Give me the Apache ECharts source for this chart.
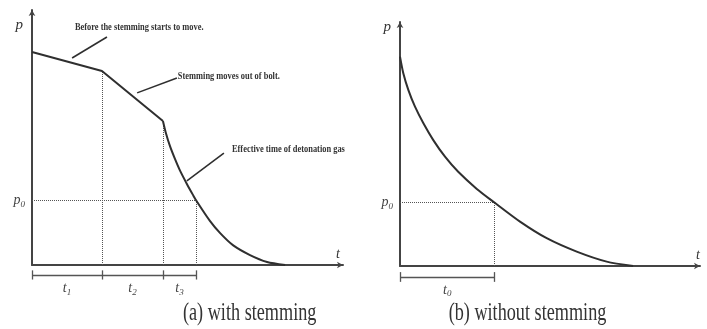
<!DOCTYPE html>
<html>
<head>
<meta charset="utf-8">
<script src="https://cdn.jsdelivr.net/npm/echarts@6/dist/echarts.min.js"></script>
<style>
  html, body { margin: 0; padding: 0; background: #fff; }
  #chart { width: 707px; height: 329px; }
</style>
</head>
<body>
<div id="chart"></div>
<script>
// ---- data (relative units: t and p both on a 0-100 scale per panel) ----

// (a) with stemming: slow drop before the stemming moves, faster drop while it moves out
const stemmedPlateau = [[0, 83.5], [22.5, 76.1], [42.1, 56.5]];
// then the detonation gas pressure decays freely
const stemmedDecay = [[42.1, 56.5], [43.0, 52.0], [44.4, 46.5], [46.0, 41.5], [47.6, 37.0],
                      [49.8, 31.8], [51.8, 27.4], [52.8, 25.3], [57.2, 17.3], [60.5, 12.5],
                      [64.6, 7.8], [70.1, 3.9], [75.6, 1.2], [81.4, 0]];
// phase boundaries t1, t1+t2, t1+t2+t3
const stemmedPhaseEnds = [22.5, 42.1, 52.8];
const stemmedPhaseNames = ['1', '2', '3'];
const stemmedP0 = 25.3;

// (b) without stemming
const openDecay = [[0, 85.8], [1.1, 79.0], [2.8, 72.1], [5.0, 65.3], [7.8, 58.5], [11.1, 51.6],
                   [15.0, 44.8], [19.4, 38.6], [25.6, 31.6], [31.5, 26.0], [40.0, 18.2],
                   [48.9, 11.4], [58.9, 5.9], [68.9, 1.8], [77.7, 0]];
const openPhaseEnds = [31.5];
const openPhaseNames = ['0'];
const openP0 = 26.0;

// callouts on panel (a): text anchor, leader start (on curve), leader end
const noteTexts = ['Before the stemming starts to move.', 'Stemming moves out of bolt.', 'Effective time of detonation gas'];
const noteAnchors = [[13.8, 93.3], [46.9, 74.1], [64.3, 45.5]];
const noteLeaders = [[[12.9, 81.2], [24.1, 89.4]], [[33.8, 67.5], [46.6, 73.3]], [[49.8, 33.0], [61.7, 43.9]]];

const captions = ['(a) with stemming', '(b) without stemming'];
const axisNames = { p: 'p', t: 't' };

// ---- styling ----
const INK = '#2f2f2f';
const AXIS = '#444';
const GUIDE = '#555';
const SERIF = '"Liberation Serif", "Times New Roman", serif';

const chart = echarts.init(document.getElementById('chart'));

// curve value at a given t (the phase ends are exact curve points)
function curveAt(points, t) {
  const hit = points.find(p => Math.abs(p[0] - t) < 1e-9);
  return hit ? hit[1] : 0;
}

function guideLines(points, ends, p0) {
  const segs = ends.map(t => ({ coords: [[t, 0], [t, curveAt(points, t)]] }));
  segs.push({ coords: [[0, p0], [ends[ends.length - 1], p0]] });
  return segs;
}

function bracketLines(ends, y, half) {
  const stops = [0].concat(ends);
  const segs = [{ coords: [[0, y], [stops[stops.length - 1], y]] }];
  stops.forEach(t => segs.push({ coords: [[t, y - half], [t, y + half]] }));
  return segs;
}

function xAxisOf(gridIndex, gap) {
  return {
    type: 'value', gridIndex, min: 0, max: 100,
    axisLine: { lineStyle: { color: AXIS, width: 2 }, symbol: ['none', 'arrow'], symbolSize: [5, 6] },
    axisTick: { show: false }, axisLabel: { show: false }, splitLine: { show: false },
    name: axisNames.t, nameLocation: 'end', nameGap: gap,
    nameTextStyle: { fontFamily: SERIF, fontStyle: 'italic', fontSize: 14, color: '#333',
      align: 'center', verticalAlign: 'bottom', padding: [0, 0, 4, 0] }
  };
}

function yAxisOf(gridIndex, gap) {
  return {
    type: 'value', gridIndex, min: 0, max: 100,
    axisLine: { lineStyle: { color: AXIS, width: 2 }, symbol: ['none', 'arrow'], symbolSize: [5, 6] },
    axisTick: { show: false }, axisLabel: { show: false }, splitLine: { show: false },
    name: axisNames.p, nameLocation: 'end', nameGap: gap,
    nameTextStyle: { fontFamily: SERIF, fontStyle: 'italic', fontSize: 15, color: '#333',
      align: 'right', verticalAlign: 'middle', padding: [0, 9, 0, 0] }
  };
}

function curve(data, gridIndex, smooth) {
  return {
    type: 'line', xAxisIndex: gridIndex, yAxisIndex: gridIndex, data,
    symbol: 'none', smooth: smooth ? 0.25 : false,
    lineStyle: { color: INK, width: 2 }, z: 5
  };
}

function segs(data, gridIndex, style) {
  return {
    type: 'lines', coordinateSystem: 'cartesian2d', xAxisIndex: gridIndex, yAxisIndex: gridIndex,
    data, clip: false, lineStyle: Object.assign({ opacity: 1, curveness: 0 }, style), z: 3
  };
}

chart.setOption({
  animation: false,
  backgroundColor: '#fff',
  grid: [
    { left: 32, top: 10, width: 311, height: 255 },
    { left: 400, top: 22, width: 300, height: 244 }
  ],
  xAxis: [xAxisOf(0, -5), xAxisOf(1, -2)],
  yAxis: [yAxisOf(0, -15), yAxisOf(1, -5)],
  series: [
    curve(stemmedPlateau, 0, false),
    curve(stemmedDecay, 0, true),
    segs(guideLines(stemmedPlateau.concat(stemmedDecay), stemmedPhaseEnds, stemmedP0), 0,
      { color: GUIDE, width: 1, type: 'dotted' }),
    segs(bracketLines(stemmedPhaseEnds, -3.9, 1.8), 0, { color: GUIDE, width: 1.3 }),
    segs(noteLeaders.map(c => ({ coords: c })), 0, { color: INK, width: 1.6 }),
    curve(openDecay, 1, true),
    segs(guideLines(openDecay, openPhaseEnds, openP0), 1, { color: GUIDE, width: 1, type: 'dotted' }),
    segs(bracketLines(openPhaseEnds, -4.5, 2.0), 1, { color: GUIDE, width: 1.3 })
  ]
});

// ---- text placed from data coordinates ----
const sym = {
  i: { fontFamily: SERIF, fontStyle: 'italic', fontSize: 14, fill: '#444' },
  s: { fontFamily: SERIF, fontStyle: 'italic', fontSize: 9, fill: '#444', padding: [8, 0, 0, 0] }
};

function textAt(gridIndex, pt, style, extra) {
  const [x, y] = chart.convertToPixel({ gridIndex }, pt);
  return Object.assign({ type: 'text', x, y, style, silent: true }, extra || {});
}

const graphics = [];

// callouts
noteTexts.forEach((t, k) => {
  graphics.push(textAt(0, noteAnchors[k], {
    text: t, fontFamily: SERIF, fontWeight: 'bold', fontSize: 10, fill: '#333',
    align: 'left', verticalAlign: 'middle', textAlign: 'left', textVerticalAlign: 'middle'
  }, { scaleX: 0.84 }));
});

// phase labels under the brackets
function phaseLabels(gridIndex, ends, names, y) {
  const stops = [0].concat(ends);
  names.forEach((n, k) => {
    const mid = (stops[k] + stops[k + 1]) / 2;
    graphics.push(textAt(gridIndex, [mid, y], {
      text: '{i|t}{s|' + n + '}', rich: sym,
      align: 'center', verticalAlign: 'middle', textAlign: 'center', textVerticalAlign: 'middle'
    }));
  });
}
phaseLabels(0, stemmedPhaseEnds, stemmedPhaseNames, -9.2);
phaseLabels(1, openPhaseEnds, openPhaseNames, -9.8);

// p0 labels beside the axes
function p0Label(gridIndex, p0) {
  const [x, y] = chart.convertToPixel({ gridIndex }, [0, p0]);
  graphics.push({ type: 'text', x: x - 7, y, silent: true, style: {
    text: '{i|p}{s|0}', rich: sym,
    align: 'right', verticalAlign: 'middle', textAlign: 'right', textVerticalAlign: 'middle'
  }});
}
p0Label(0, stemmedP0);
p0Label(1, openP0);

// panel captions
const capCenters = [[0, 70], [1, 42.5]];
captions.forEach((c, k) => {
  const [gi, tx] = capCenters[k];
  const [x] = chart.convertToPixel({ gridIndex: gi }, [tx, 0]);
  graphics.push({ type: 'text', x, y: 313, scaleX: 0.7, silent: true, style: {
    text: c, fontFamily: SERIF, fontSize: 26, fill: '#333',
    align: 'center', verticalAlign: 'middle', textAlign: 'center', textVerticalAlign: 'middle'
  }});
});

chart.setOption({ graphic: graphics });
</script>
</body>
</html>
